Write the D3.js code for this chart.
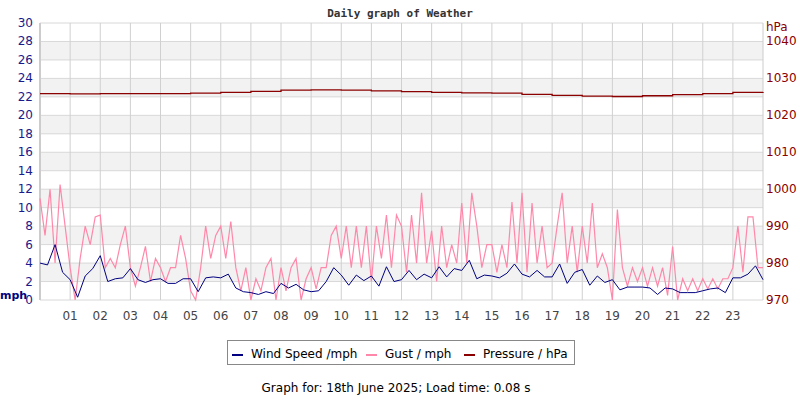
<!DOCTYPE html>
<html><head><meta charset="utf-8">
<script src="https://cdn.jsdelivr.net/npm/d3@7"></script>
<style>body{margin:0;background:#fff}text{font-family:"DejaVu Sans",sans-serif}</style>
</head><body><svg id="c" width="800" height="400"></svg>
<script>
// wind speed every 15 min (mph)
const wind = [4.0,3.8,6.0,3.0, 2.2,0.3,2.6,3.4, 4.8,2.0,2.3,2.4, 3.4,2.2,1.9,2.2,
 2.3,1.8,1.8,2.3, 2.3,0.9,2.4,2.5, 2.4,2.8,1.3,0.9, 0.8,0.6,0.9,0.7,
 1.8,1.3,1.7,1.1, 0.9,1.0,2.0,3.5, 2.7,1.6,2.7,2.1, 2.6,1.5,3.6,2.0,
 2.2,3.2,2.2,2.8, 2.4,3.6,2.5,3.4, 3.2,4.3,2.3,2.7, 2.6,2.4,2.9,3.9,
 2.8,2.5,3.2,2.5, 2.5,3.9,1.8,3.0, 3.3,1.6,2.6,1.9, 2.2,1.1,1.4,1.4,
 1.4,1.3,0.6,1.3, 1.2,0.8,0.8,0.8, 1.0,1.2,1.3,0.8, 2.4,2.4,2.8,3.7, 2.2];
// gust every 10 min (mph)
const gust = [11,7,12,4,12.5,8, 3.5,0,4.5,8,6,9, 9.2,3.5,4.5,3.5,6,8, 3.5,1.5,3.5,5.8,2,4.5,
 3.5,2,3.5,3.5,7,4.5, 1,0,3.5,8,4.5,7, 8,4.5,8.5,3.5,1,3.5, 0,2.3,1,3.5,4.5,0,
 3.5,1,3.5,4.5,0,2.3, 3.5,1.2,3.5,3.5,7,8, 4.5,8,3.5,8,3.5,8, 2,8,4.5,9.2,3.5,9.2,
 8,3,9.2,4,11.6,4, 7.5,2,8,3.5,6,4, 10.5,4,11.6,8,3.5,6, 6,3,6,3.5,10.6,4,
 11.6,3,10.5,4,8,3.5, 4,8,11.6,4,8,3, 8,4,10.5,3.5,5,3.5, 0,9.8,3.5,1.5,3.5,2,
 3.5,1.5,3.5,1.5,3.5,0.5, 5.8,0,2.3,1,2.3,1, 2.3,1.2,2.3,1.2,2.3,2.3, 3.5,8,3,9,9,3.5, 3.5];
// pressure hourly (hPa)
const pressure = [1025.9,1025.8,1025.9,1025.9,1025.9,1026.0,1026.2,1026.5,1026.8,1026.9,1026.8,1026.6,
 1026.4,1026.2,1026.1,1026.0,1025.7,1025.4,1025.2,1025.1,1025.3,1025.6,1025.9,1026.2,1026.3];
const hourLabels = ["01","02","03","04","05","06","07","08","09","10","11","12","13","14","15","16","17","18","19","20","21","22","23"];
const leftTicks = d3.range(0,31,2);
const rightTicks = [970,980,990,1000,1010,1020,1030,1040];

const svg = d3.select("#c");
const L=40,R=763,T=23,B=300;
const x = d3.scaleLinear().domain([0,24]).range([L,R]);
const y = d3.scaleLinear().domain([0,30]).range([B,T]);
const yp = d3.scaleLinear().domain([970,1045]).range([B,T]);

[2,6,10,14,18,22,26].forEach(v=>svg.append("rect").attr("x",L).attr("width",R-L)
  .attr("y",y(v+2)).attr("height",y(v)-y(v+2)).attr("fill","#f2f2f2"));
leftTicks.forEach(v=>svg.append("line").attr("x1",L).attr("x2",R).attr("y1",y(v)).attr("y2",y(v)).attr("stroke","#d8d8d8"));
d3.range(1,24).forEach(h=>svg.append("line").attr("x1",x(h)).attr("x2",x(h)).attr("y1",T).attr("y2",B).attr("stroke","#d0d0d0"));
svg.append("line").attr("x1",L).attr("x2",L).attr("y1",T).attr("y2",B).attr("stroke","#ccc").attr("stroke-width",2);
svg.append("line").attr("x1",R).attr("x2",R).attr("y1",T).attr("y2",B).attr("stroke","#ccc").attr("stroke-width",1);

const lg = d3.line().x((d,i)=>x(i/6)).y(d=>y(d));
svg.append("path").datum(gust).attr("d",lg).attr("fill","none").attr("stroke","#ff88aa").attr("stroke-width",1.2);
const lw = d3.line().x((d,i)=>x(i/4)).y(d=>y(d));
svg.append("path").datum(wind).attr("d",lw).attr("fill","none").attr("stroke","#000080").attr("stroke-width",1);
const lp = d3.line().x((d,i)=>x(i)).y(d=>yp(d)).curve(d3.curveStepAfter);
svg.append("path").datum(pressure).attr("d",lp).attr("fill","none").attr("stroke","#8b0000").attr("stroke-width",1.3);

leftTicks.forEach(v=>svg.append("text").attr("x",33).attr("y",y(v)+4).attr("text-anchor","end")
  .attr("font-size",12).attr("fill","#1a1a8c").text(v));
rightTicks.forEach(v=>svg.append("text").attr("x",766).attr("y",yp(v)+4)
  .attr("font-size",12).attr("fill","#8b0000").text(v));
hourLabels.forEach((t,i)=>svg.append("text").attr("x",x(i+1)).attr("y",320).attr("text-anchor","middle")
  .attr("font-size",12).attr("fill","#444").text(t));
svg.append("text").attr("x",0).attr("y",299).attr("font-size",11).attr("font-weight","bold").attr("fill","#000080").text("mph");
svg.append("text").attr("x",766).attr("y",31).attr("font-size",12).attr("fill","#8b0000").text("hPa");
svg.append("text").attr("x",400).attr("y",17).attr("text-anchor","middle").attr("font-size",11).attr("font-weight","bold")
  .style("font-family","'DejaVu Sans Mono',monospace").attr("fill","#333").text("Daily graph of Weather");

svg.append("rect").attr("x",227.5).attr("y",340.5).attr("width",347).attr("height",24).attr("fill","#fff").attr("stroke","#888");
const leg=[["Wind Speed /mph","#000080",232],["Gust / mph","#ff88aa",366],["Pressure / hPa","#8b0000",464]];
leg.forEach(([t,c,lx])=>{svg.append("rect").attr("x",lx).attr("y",354).attr("width",11).attr("height",2).attr("fill",c);
 svg.append("text").attr("x",lx+19).attr("y",358).attr("font-size",12).attr("fill","#000").text(t);});
svg.append("text").attr("x",396).attr("y",392).attr("text-anchor","middle").attr("font-size",12).attr("fill","#000")
  .text("Graph for: 18th June 2025; Load time: 0.08 s");
</script></body></html>
